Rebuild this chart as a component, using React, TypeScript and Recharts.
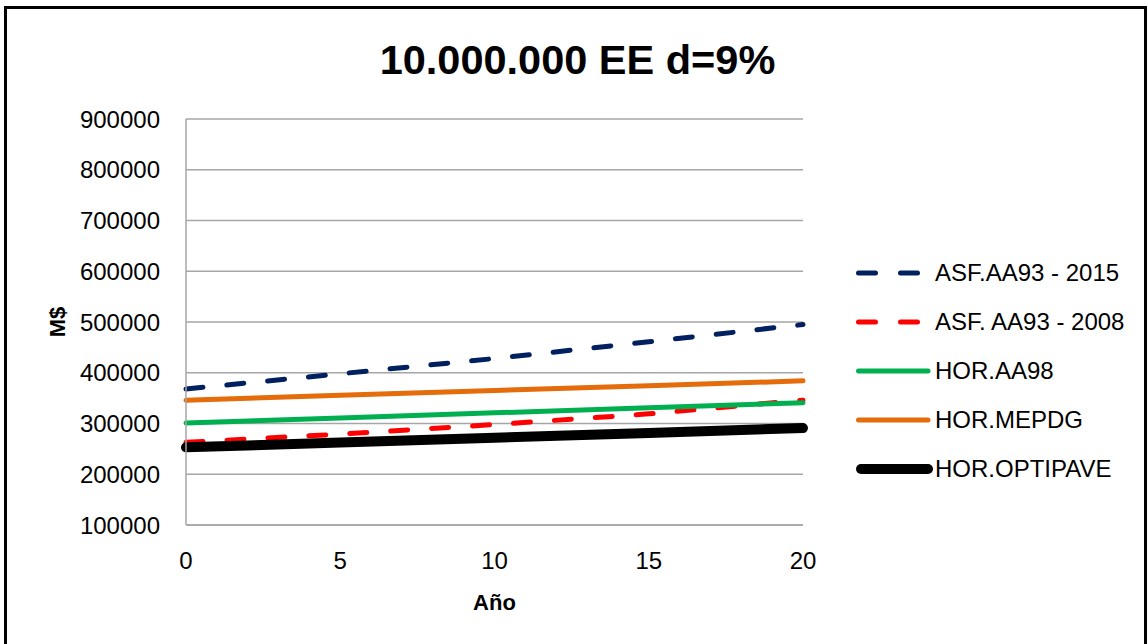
import React from "react";
import { LineChart, Line, XAxis, YAxis, CartesianGrid, Label } from "recharts";

const years = [0, 5, 10, 15, 20];
const asf2015 = [368000, 398000, 428000, 461000, 495000];
const asf2008 = [263000, 279000, 298000, 319000, 346000];
const horAA98 = [301000, 311000, 321000, 331000, 341000];
const horMEPDG = [346000, 355500, 365000, 374500, 384000];
const horOPTIPAVE = [253000, 262500, 272000, 281500, 291000];

const yTicks = [100000, 200000, 300000, 400000, 500000, 600000, 700000, 800000, 900000];
const xTicks = [0, 5, 10, 15, 20];

const seriesInfo = [
  { key: "asf2015", name: "ASF.AA93 - 2015", color: "#002060", width: 5, dash: "17 24" },
  { key: "asf2008", name: "ASF. AA93 - 2008", color: "#FF0000", width: 5, dash: "17 24" },
  { key: "horAA98", name: "HOR.AA98", color: "#00B050", width: 5, dash: undefined },
  { key: "horMEPDG", name: "HOR.MEPDG", color: "#E46C0A", width: 5, dash: undefined },
  { key: "horOPTIPAVE", name: "HOR.OPTIPAVE", color: "#000000", width: 10, dash: undefined },
];

const data = years.map((y, i) => ({
  year: y,
  asf2015: asf2015[i],
  asf2008: asf2008[i],
  horAA98: horAA98[i],
  horMEPDG: horMEPDG[i],
  horOPTIPAVE: horOPTIPAVE[i],
}));

const FONT = "'Liberation Sans', Arial, sans-serif";

const LegendBox = () => (
  <div style={{ position: "absolute", left: 855, top: 248, fontFamily: FONT, fontSize: 24, color: "#000" }}>
    {seriesInfo.map((s) => (
      <div key={s.key} style={{ display: "flex", alignItems: "center", height: 49 }}>
        <svg width={80} height={14} style={{ display: "block" }}>
          <line
            x1={s.width / 2 + 1}
            y1={7}
            x2={s.dash ? 66 : 73}
            y2={7}
            stroke={s.color}
            strokeWidth={s.width}
            strokeLinecap="round"
            strokeDasharray={s.dash ? "17 25" : undefined}
          />
        </svg>
        <span style={{ whiteSpace: "nowrap" }}>{s.name}</span>
      </div>
    ))}
  </div>
);

export default function App() {
  return (
    <div style={{ position: "absolute", left: 0, top: 0, width: 1147, height: 644, background: "#fff", overflow: "hidden" }}>
      <div
        style={{
          position: "absolute",
          left: 4,
          top: 6,
          width: 1137,
          height: 700,
          border: "3px solid #000",
        }}
      />
      <div
        style={{
          position: "absolute",
          left: 0,
          top: 35,
          width: 1147,
          textAlign: "center",
          fontFamily: FONT,
          fontWeight: "bold",
          fontSize: 41.5,
          color: "#000",
          lineHeight: "50px",
          paddingLeft: 8,
          boxSizing: "border-box",
        }}
      >
        10.000.000 EE d=9%
      </div>
      <div style={{ position: "absolute", left: 0, top: 0 }}>
        <LineChart
          width={1147}
          height={644}
          data={data}
          margin={{ top: 119, right: 344, bottom: 79, left: 126 }}
        >
          <CartesianGrid vertical={false} stroke="#A6A6A6" strokeWidth={1.5} />
          <XAxis
            dataKey="year"
            type="number"
            domain={[0, 20]}
            ticks={xTicks}
            height={40}
            tickLine={false}
            tickSize={0}
            tickMargin={27}
            axisLine={{ stroke: "#A6A6A6", strokeWidth: 1.5 }}
            tick={{ fill: "#000", fontSize: 24, fontFamily: FONT }}
          >
            <Label
              value="Año"
              position="insideBottom"
              offset={-45}
              style={{ fontFamily: FONT, fontWeight: "bold", fontSize: 22, fill: "#000" }}
            />
          </XAxis>
          <YAxis
            type="number"
            domain={[100000, 900000]}
            ticks={yTicks}
            width={60}
            tickLine={false}
            tickSize={0}
            tickMargin={26}
            axisLine={{ stroke: "#A6A6A6", strokeWidth: 1.5 }}
            tick={{ fill: "#000", fontSize: 24, fontFamily: FONT }}
            interval={0}
          >
            <Label
              value="M$"
              angle={-90}
              position="insideLeft"
              offset={-69}
              style={{ fontFamily: FONT, fontWeight: "bold", fontSize: 22, fill: "#000", textAnchor: "middle" }}
            />
          </YAxis>
          {seriesInfo.map((s) => (
            <Line
              key={s.key}
              type="linear"
              dataKey={s.key}
              name={s.name}
              stroke={s.color}
              strokeWidth={s.width}
              strokeDasharray={s.dash}
              strokeLinecap="round"
              dot={false}
              activeDot={false}
              isAnimationActive={false}
            />
          ))}
        </LineChart>
      </div>
      <LegendBox />
    </div>
  );
}
